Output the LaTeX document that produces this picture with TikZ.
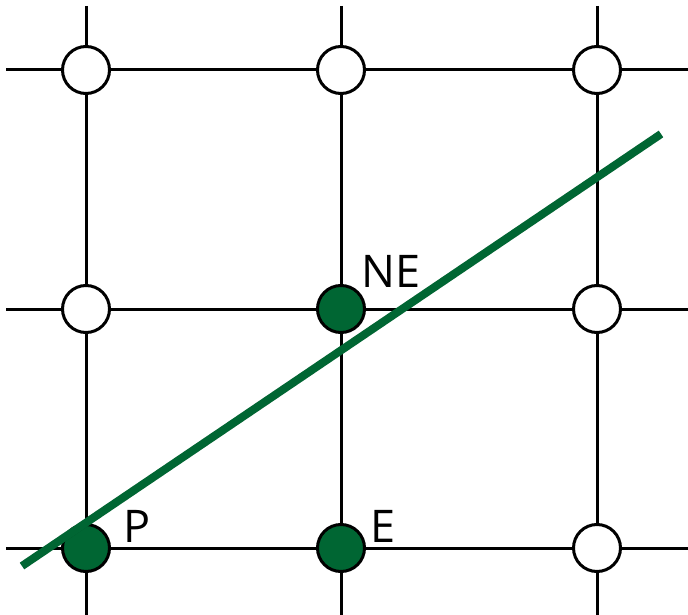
\documentclass[tikz,border=0pt]{standalone}
\usepackage{fontspec}
\setmainfont{Open Sans}
\definecolor{dgreen}{RGB}{0,102,51}
\begin{document}
\begin{tikzpicture}[x=1pt,y=-1pt,
  gridline/.style={line width=3pt,black},
  pt/.style={circle,draw=black,line width=3pt,minimum size=47pt,inner sep=0pt,fill=white},
  ptg/.style={pt,fill=dgreen},
  lbl/.style={font=\fontsize{45}{45}\selectfont,inner sep=0pt,anchor=base west}]
\useasboundingbox (0,0) rectangle (688,615);
% grid
\foreach \y/\n in {70/a,309/b,548/c}{
  \coordinate (hl\n) at (6,\y); \coordinate (hr\n) at (688,\y);
  \draw[gridline] (hl\n) -- (hr\n);}
\foreach \x/\n in {86/a,341/b,597/c}{
  \coordinate (vt\n) at (\x,6); \coordinate (vb\n) at (\x,615);
  \draw[gridline] (vt\n) -- (vb\n);}
% points
\node[pt] (n11) at (86,70) {};
\node[pt] (n12) at (341,70) {};
\node[pt] (n13) at (597,70) {};
\node[pt] (n21) at (86,309) {};
\node[ptg] (NE) at (341,309) {};
\node[pt] (n23) at (597,309) {};
\node[ptg] (P) at (86,548) {};
\node[ptg] (E) at (341,548) {};
\node[pt] (n33) at (597,548) {};
% line
\coordinate (l0) at (22,566);
\coordinate (l1) at (661,134);
\draw[line width=8pt,black,opacity=0.15,shift={(2,3)}] (l0) -- (l1);
\draw[line width=8pt,dgreen] (l0) -- (l1);
% labels
\node[lbl] (tNE) at (361,287) {NE};
\node[lbl] (tP) at (123,542) {P};
\node[lbl] (tE) at (370,542) {E};
\end{tikzpicture}
\end{document}
